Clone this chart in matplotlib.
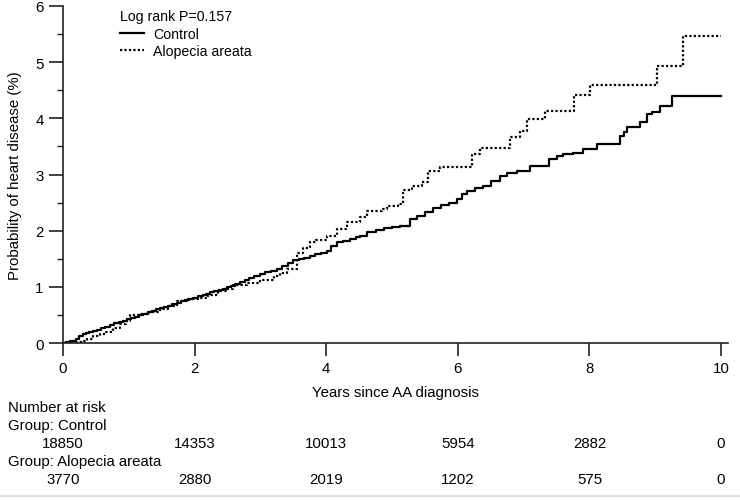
import matplotlib
matplotlib.use('Agg')
import matplotlib.pyplot as plt
from matplotlib.transforms import blended_transform_factory
from matplotlib.lines import Line2D

plt.rcParams['font.family'] = ['Liberation Sans', 'DejaVu Sans']

# cumulative incidence (%), step points (t in years)
ctrl_t = [0.00, 0.05, 0.10, 0.15, 0.20, 0.25, 0.30, 0.35, 0.40, 0.46, 0.52, 0.58, 0.64,
          0.71, 0.78, 0.85, 0.91, 0.97, 1.03, 1.10, 1.16, 1.22, 1.29, 1.35, 1.41, 1.47,
          1.54, 1.60, 1.66, 1.73, 1.79, 1.85, 1.92, 1.98, 2.05, 2.12, 2.18, 2.23, 2.30,
          2.37, 2.43, 2.49, 2.56, 2.62, 2.69, 2.76, 2.83, 2.90, 2.99, 3.07, 3.16, 3.25,
          3.33, 3.42, 3.50, 3.58, 3.66, 3.75, 3.83, 3.92, 4.01, 4.08, 4.16, 4.26, 4.36,
          4.45, 4.51, 4.62, 4.75, 4.88, 5.00, 5.12, 5.27, 5.38, 5.50, 5.62, 5.75, 5.87,
          5.99, 6.07, 6.14, 6.26, 6.38, 6.50, 6.64, 6.75, 6.90, 7.10, 7.39, 7.51, 7.60,
          7.75, 7.90, 8.11, 8.47, 8.52, 8.57, 8.77, 8.87, 8.95, 9.07, 9.25, 10.0]
ctrl_p = [0.00, 0.01, 0.03, 0.04, 0.08, 0.13, 0.16, 0.18, 0.20, 0.22, 0.24, 0.27, 0.29,
          0.32, 0.35, 0.37, 0.40, 0.42, 0.44, 0.47, 0.50, 0.52, 0.55, 0.57, 0.60, 0.62,
          0.64, 0.66, 0.69, 0.71, 0.74, 0.76, 0.79, 0.81, 0.83, 0.86, 0.88, 0.90, 0.92,
          0.95, 0.97, 0.99, 1.02, 1.05, 1.09, 1.13, 1.16, 1.19, 1.23, 1.26, 1.29, 1.32,
          1.37, 1.42, 1.47, 1.50, 1.52, 1.55, 1.58, 1.61, 1.64, 1.72, 1.79, 1.82, 1.85,
          1.89, 1.91, 1.97, 2.01, 2.04, 2.06, 2.09, 2.20, 2.27, 2.33, 2.40, 2.45, 2.50,
          2.56, 2.65, 2.71, 2.76, 2.80, 2.88, 2.98, 3.03, 3.07, 3.15, 3.27, 3.33, 3.36,
          3.39, 3.45, 3.54, 3.68, 3.76, 3.84, 3.93, 4.07, 4.12, 4.22, 4.40, 4.40]

aa_t = [0.00, 0.10, 0.20, 0.28, 0.36, 0.46, 0.56, 0.66, 0.76, 0.87, 0.95, 1.02, 1.15,
        1.30, 1.47, 1.60, 1.73, 1.90, 2.08, 2.20, 2.35, 2.49, 2.59, 2.80, 2.99, 3.20,
        3.30, 3.40, 3.55, 3.65, 3.75, 3.85, 4.01, 4.16, 4.31, 4.51, 4.62, 4.85, 4.92,
        5.09, 5.17, 5.30, 5.45, 5.55, 5.73, 6.21, 6.34, 6.79, 6.95, 7.05, 7.33, 7.76,
        8.01, 9.03, 9.42, 10.0]
aa_p = [0.00, 0.01, 0.02, 0.04, 0.08, 0.12, 0.16, 0.20, 0.26, 0.34, 0.40, 0.49, 0.52,
        0.55, 0.60, 0.66, 0.75, 0.78, 0.81, 0.86, 0.92, 0.97, 1.03, 1.06, 1.13, 1.20,
        1.24, 1.32, 1.60, 1.70, 1.79, 1.84, 1.90, 2.03, 2.15, 2.24, 2.35, 2.38, 2.44,
        2.47, 2.72, 2.80, 2.86, 3.06, 3.13, 3.36, 3.48, 3.66, 3.77, 3.99, 4.13, 4.41,
        4.59, 4.93, 5.46, 5.46]

risk_years = [0, 2, 4, 6, 8, 10]
risk_ctrl = [18850, 14353, 10013, 5954, 2882, 0]
risk_aa = [3770, 2880, 2019, 1202, 575, 0]

fig = plt.figure(figsize=(7.4, 5.02), dpi=100)
ax = fig.add_axes([63 / 740, 158 / 502, 664.6 / 740, 337 / 502])

ax.plot(ctrl_t, ctrl_p, drawstyle='steps-post', color='black', lw=1.6, label='Control')
ax.plot(aa_t, aa_p, drawstyle='steps-post', color='black', lw=1.6,
        ls=(0, (1, 1)), label='Alopecia areata')

ax.set_xlim(0, 10.1)
ax.set_ylim(0, 6)
ax.set_xticks(risk_years)
ax.set_yticks(range(7))
ax.set_yticks([0.5, 1.5, 2.5, 3.5, 4.5, 5.5], minor=True)
for s in ('top', 'right'):
    ax.spines[s].set_visible(False)
for s in ('left', 'bottom'):
    ax.spines[s].set_linewidth(1.2)
    ax.spines[s].set_color('#222222')
ax.tick_params(axis='y', which='major', length=10, width=1.2, pad=4, labelsize=10.8, color='#222222')
ax.tick_params(axis='y', which='minor', length=4.5, width=1.0, color='#222222')
ax.tick_params(axis='x', length=9, width=1.2, pad=4, labelsize=10.8, color='#222222')

ax.set_xlabel('Years since AA diagnosis', fontsize=10.8)
ax.xaxis.set_label_coords(0.5, -49 / 337)
ax.xaxis.label.set_va('center')
ax.set_ylabel('Probability of heart disease (%)', fontsize=10.8)
ax.yaxis.set_label_coords(-48 / 664.6, 0.5)
ax.yaxis.label.set_va('center')

leg = ax.legend(title='Log rank P=0.157', loc='upper left', frameon=False,
                bbox_to_anchor=(113 / 740, 499 / 502), bbox_transform=fig.transFigure,
                fontsize=10.2, title_fontsize=10.2, borderpad=0, handlelength=1.7,
                handletextpad=0.65, labelspacing=0.25)
leg._legend_box.align = 'left'

# number-at-risk table
tr = blended_transform_factory(ax.transData, fig.transFigure)
fig.text(8 / 740, 1 - 408 / 502, 'Number at risk', fontsize=10.8, va='center')
fig.text(8 / 740, 1 - 426 / 502, 'Group: Control', fontsize=10.8, va='center')
fig.text(8 / 740, 1 - 462 / 502, 'Group: Alopecia areata', fontsize=10.8, va='center')
for x, n in zip(risk_years, risk_ctrl):
    ax.text(x, 1 - 444 / 502, str(n), transform=tr, ha='center', va='center', fontsize=10.8)
for x, n in zip(risk_years, risk_aa):
    ax.text(x, 1 - 480 / 502, str(n), transform=tr, ha='center', va='center', fontsize=10.8)

fig.add_artist(Line2D([0, 1], [5 / 502, 5 / 502], transform=fig.transFigure,
                      color='#d3dbe4', lw=1.2))

fig.savefig('out.png', dpi=100)
